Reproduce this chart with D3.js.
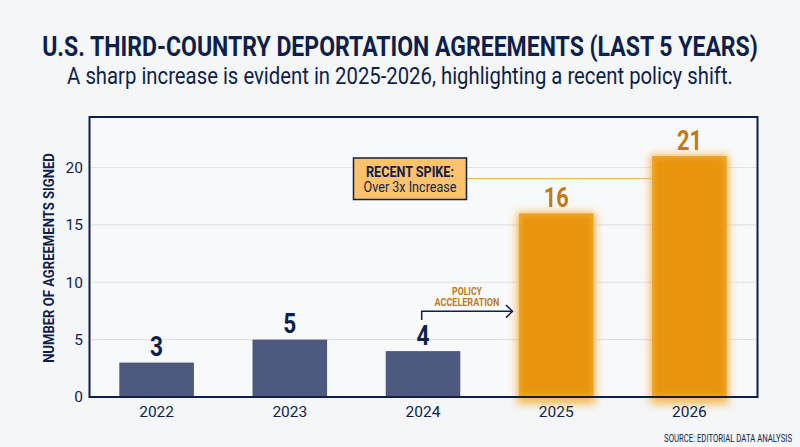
<!DOCTYPE html>
<html>
<head>
<meta charset="utf-8">
<script src="https://cdn.jsdelivr.net/npm/d3@7"></script>
<style>
  html, body { margin: 0; padding: 0; background: #f4f6f7; }
  svg { display: block; }
  text { font-family: Roboto, sans-serif; }
  .domain { display: none; }
  .tick line { display: none; }
</style>
</head>
<body>
<div id="chart"></div>
<script>
const years = ['2022', '2023', '2024', '2025', '2026'];
const agreements = [3, 5, 4, 16, 21];
const spikeYears = ['2025', '2026'];
const yTicks = [0, 5, 10, 15, 20];

const width = 800, height = 447;
const navy = '#0f1f4b', slate = '#4d5a7e', amber = '#e8950a', amberText = '#c17a14';

const svg = d3.select('#chart').append('svg')
  .attr('width', width)
  .attr('height', height);

const defs = svg.append('defs');
const glow = defs.append('filter').attr('id', 'glow')
  .attr('x', '-30%').attr('y', '-30%').attr('width', '160%').attr('height', '160%');
glow.append('feGaussianBlur').attr('stdDeviation', 4);

const soft = defs.append('filter').attr('id', 'soft')
  .attr('x', '-10%').attr('y', '-10%').attr('width', '120%').attr('height', '120%');
soft.append('feGaussianBlur').attr('stdDeviation', 2);

const x = d3.scaleBand().domain(years).range([90, 756]).paddingInner(0.44).paddingOuter(0.22);
const y = d3.scaleLinear().domain([0, 20]).range([397, 167.5]);

const valueOf = d => agreements[years.indexOf(d)];
const isSpike = d => spikeYears.includes(d);

// the reference uses a condensed face, so squeeze Roboto to the measured width
function label(parent, txt, px, py, size, weight, color, len, anchor) {
  const t = parent.append('text')
    .attr('text-anchor', anchor || 'middle')
    .attr('font-size', size)
    .attr('font-weight', weight)
    .attr('fill', color)
    .text(txt);
  const k = len / t.node().getComputedTextLength();
  t.attr('transform', `translate(${px},${py}) scale(${k},1)`);
  return t;
}

label(svg, 'U.S. THIRD-COUNTRY DEPORTATION AGREEMENTS (LAST 5 YEARS)', 400, 55.5, 27, 700, navy, 716);
label(svg, 'A sharp increase is evident in 2025-2026, highlighting a recent policy shift.', 400, 84, 23, 400, navy, 666);

// plot background
svg.append('rect')
  .attr('x', 89.5).attr('y', 117)
  .attr('width', 668).attr('height', 280)
  .attr('fill', '#f8f9fa');

// gridlines
svg.append('g').selectAll('line')
  .data(yTicks.filter(d => d > 0))
  .join('line')
  .attr('x1', 91)
  .attr('x2', 756)
  .attr('y1', d => y(d))
  .attr('y2', d => y(d))
  .attr('stroke', '#dfe2e5')
  .attr('stroke-width', 1.2);

// glow behind the recent bars
svg.append('g').selectAll('rect')
  .data(years.filter(isSpike))
  .join('rect')
  .attr('x', d => x(d) - 2)
  .attr('y', d => y(valueOf(d)) - 1)
  .attr('width', x.bandwidth() + 4)
  .attr('height', d => y(0) - y(valueOf(d)) + 8)
  .attr('fill', '#f6a92e')
  .attr('opacity', 0.8)
  .attr('filter', 'url(#glow)');

svg.append('g').selectAll('rect')
  .data(years)
  .join('rect')
  .attr('x', d => x(d))
  .attr('y', d => y(valueOf(d)))
  .attr('width', x.bandwidth())
  .attr('height', d => y(0) - y(valueOf(d)))
  .attr('fill', d => isSpike(d) ? '#f0a42a' : slate);

// darker core so the bar edges fade like the reference
svg.append('g').selectAll('rect')
  .data(years.filter(isSpike))
  .join('rect')
  .attr('x', d => x(d) + 3)
  .attr('y', d => y(valueOf(d)) + 3)
  .attr('width', x.bandwidth() - 6)
  .attr('height', d => y(0) - y(valueOf(d)) - 6)
  .attr('fill', amber)
  .attr('filter', 'url(#soft)');

// value labels
years.forEach((d, i) => {
  const n = String(agreements[i]);
  label(svg, n, x(d) + x.bandwidth() / 2, y(agreements[i]) - 6.5, 28, 700,
    isSpike(d) ? amberText : navy, n.length === 2 ? 25 : 13);
});

// frame
svg.append('rect')
  .attr('x', 89.5)
  .attr('y', 117)
  .attr('width', 668)
  .attr('height', 280)
  .attr('fill', 'none')
  .attr('stroke', navy)
  .attr('stroke-width', 2);

// axes
const yAxis = svg.append('g')
  .attr('transform', 'translate(89,0)')
  .call(d3.axisLeft(y).tickValues(yTicks).tickSize(0).tickPadding(6));
yAxis.selectAll('text')
  .attr('font-size', 15.5)
  .attr('fill', navy);

const xAxis = svg.append('g')
  .attr('transform', 'translate(0,397)')
  .call(d3.axisBottom(x).tickSize(0).tickPadding(9));
xAxis.selectAll('text')
  .attr('font-size', 15.5)
  .attr('fill', navy);

const yTitle = svg.append('g').attr('transform', 'translate(54,258) rotate(-90)');
label(yTitle, 'NUMBER OF AGREEMENTS SIGNED', 0, 0, 15.5, 700, navy, 210);

// spike callout
svg.append('line')
  .attr('x1', 467).attr('x2', x('2026'))
  .attr('y1', 178.7).attr('y2', 178.7)
  .attr('stroke', '#f4b860')
  .attr('stroke-width', 1.2);
svg.append('rect')
  .attr('x', 353.5).attr('y', 158)
  .attr('width', 113).attr('height', 41.5)
  .attr('fill', '#fcc26c')
  .attr('stroke', navy)
  .attr('stroke-width', 1.5);
label(svg, 'RECENT SPIKE:', 410, 177, 14.5, 700, navy, 88);
label(svg, 'Over 3x Increase', 410, 191.5, 14, 400, navy, 93);

// policy arrow
svg.append('path')
  .attr('d', d3.line()([[421.7, 320], [421.7, 311.3], [512, 311.3]]))
  .attr('fill', 'none')
  .attr('stroke', navy)
  .attr('stroke-width', 1.5);
svg.append('path')
  .attr('d', d3.line()([[506, 305], [512.5, 311.3], [506, 317.6]]))
  .attr('fill', 'none')
  .attr('stroke', navy)
  .attr('stroke-width', 1.5);
label(svg, 'POLICY', 467, 295, 10.5, 700, amberText, 30);
label(svg, 'ACCELERATION', 467, 305.7, 10.5, 700, amberText, 65);

label(svg, 'SOURCE: EDITORIAL DATA ANALYSIS', 792, 441.5, 10.5, 400, navy, 128, 'end');
</script>
</body>
</html>
